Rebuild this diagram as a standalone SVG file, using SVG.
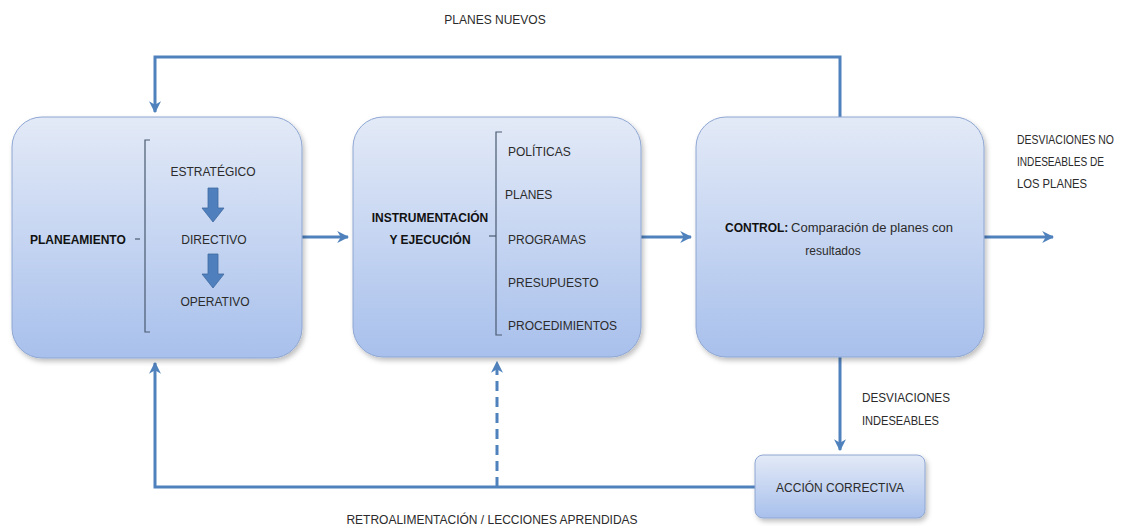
<svg xmlns="http://www.w3.org/2000/svg" width="1128" height="526" viewBox="0 0 1128 526">
<defs>
<linearGradient id="g" x1="0" y1="0" x2="0" y2="1">
<stop offset="0" stop-color="#e3eaf7"/>
<stop offset="1" stop-color="#a8c0ec"/>
</linearGradient>
<marker id="ah" viewBox="0 0 10 10" refX="9" refY="5" markerWidth="4" markerHeight="4" orient="auto" markerUnits="strokeWidth">
<path d="M0,0 L10,5 L0,10 L3,5 z" fill="#4f81bd"/>
</marker>
<filter id="sh" x="-10%" y="-10%" width="130%" height="130%">
<feDropShadow dx="2" dy="3" stdDeviation="2.5" flood-color="#000" flood-opacity="0.25"/>
</filter>
</defs>
<style>
.box{fill:url(#g);stroke:#8ea6d2;stroke-width:1;filter:url(#sh)}
.t{font-family:"Liberation Sans",Arial,sans-serif;font-size:12px;fill:#2b2b2b}
.b{font-weight:bold;fill:#111}
.c{fill:none;stroke:#4f81bd;stroke-width:3}
.br{fill:none;stroke:#4a5a70;stroke-width:1.2}
.blk{fill:#4f7fbd;stroke:#3f6aa0;stroke-width:0.8}
</style>
<rect width="1128" height="526" fill="#fff"/>
<g id="connectors">
<polyline class="c" points="840,117 840,57 155,57 155,112" marker-end="url(#ah)"/>
<line class="c" x1="302" y1="237" x2="348" y2="237" marker-end="url(#ah)"/>
<line class="c" x1="641" y1="237" x2="691" y2="237" marker-end="url(#ah)"/>
<line class="c" x1="984" y1="237" x2="1053" y2="237" marker-end="url(#ah)"/>
<line class="c" x1="840" y1="357" x2="840" y2="450" marker-end="url(#ah)"/>
<polyline class="c" points="755,487 155,487 155,363" marker-end="url(#ah)"/>
<line class="c" x1="497" y1="487" x2="497" y2="362" stroke-dasharray="10,6" marker-end="url(#ah)"/>
</g>
<g id="label-planes-nuevos"><text class="t" x="495" y="24" text-anchor="middle">PLANES NUEVOS</text></g>
<g id="label-retro"><text class="t" x="492" y="524" text-anchor="middle">RETROALIMENTACIÓN / LECCIONES APRENDIDAS</text></g>
<g id="label-desv-ind">
<text class="t" x="862" y="402" textLength="88" lengthAdjust="spacingAndGlyphs">DESVIACIONES</text>
<text class="t" x="862" y="425" textLength="77" lengthAdjust="spacingAndGlyphs">INDESEABLES</text>
</g>
<g id="label-desv-no">
<text class="t" x="1017" y="144" textLength="97" lengthAdjust="spacingAndGlyphs">DESVIACIONES NO</text>
<text class="t" x="1017" y="166" textLength="87" lengthAdjust="spacingAndGlyphs">INDESEABLES DE</text>
<text class="t" x="1017" y="188" textLength="70" lengthAdjust="spacingAndGlyphs">LOS PLANES</text>
</g>
<g id="planeamiento">
<rect class="box" x="12" y="117" width="290" height="241" rx="30"/>
<text class="t b" x="30" y="244">PLANEAMIENTO</text>
<line class="br" x1="135" y1="239" x2="140" y2="239"/>
<polyline class="br" points="150,140 145,140 145,332 150,332"/>
<text class="t" x="213" y="176" text-anchor="middle">ESTRATÉGICO</text>
<path class="blk" d="M208,188 H218 V208 H224 L213,222 L202,208 H208 Z"/>
<text class="t" x="214" y="244" text-anchor="middle">DIRECTIVO</text>
<path class="blk" d="M208,254 H218 V274 H224 L213,288 L202,274 H208 Z"/>
<text class="t" x="215" y="306" text-anchor="middle">OPERATIVO</text>
</g>
<g id="instrumentacion">
<rect class="box" x="353" y="117" width="288" height="240" rx="30"/>
<text class="t b" x="430" y="222" text-anchor="middle">INSTRUMENTACIÓN</text>
<text class="t b" x="430" y="244" text-anchor="middle">Y EJECUCIÓN</text>
<line class="br" x1="489" y1="236" x2="496" y2="236"/>
<polyline class="br" points="502,132 496,132 496,335 502,335"/>
<text class="t" x="508" y="156">POLÍTICAS</text>
<text class="t" x="505" y="199">PLANES</text>
<text class="t" x="508" y="244">PROGRAMAS</text>
<text class="t" x="508" y="287">PRESUPUESTO</text>
<text class="t" x="508" y="330">PROCEDIMIENTOS</text>
</g>
<g id="control">
<rect class="box" x="696" y="117" width="288" height="240" rx="30"/>
<text class="t b" x="725" y="232">CONTROL:</text>
<text class="t" x="791" y="232" textLength="162" lengthAdjust="spacingAndGlyphs">Comparación de planes con</text>
<text class="t" x="833" y="255" text-anchor="middle">resultados</text>
</g>
<g id="accion-correctiva">
<rect class="box" x="755" y="455" width="170" height="63" rx="8"/>
<text class="t" x="840" y="492" text-anchor="middle">ACCIÓN CORRECTIVA</text>
</g>
</svg>
